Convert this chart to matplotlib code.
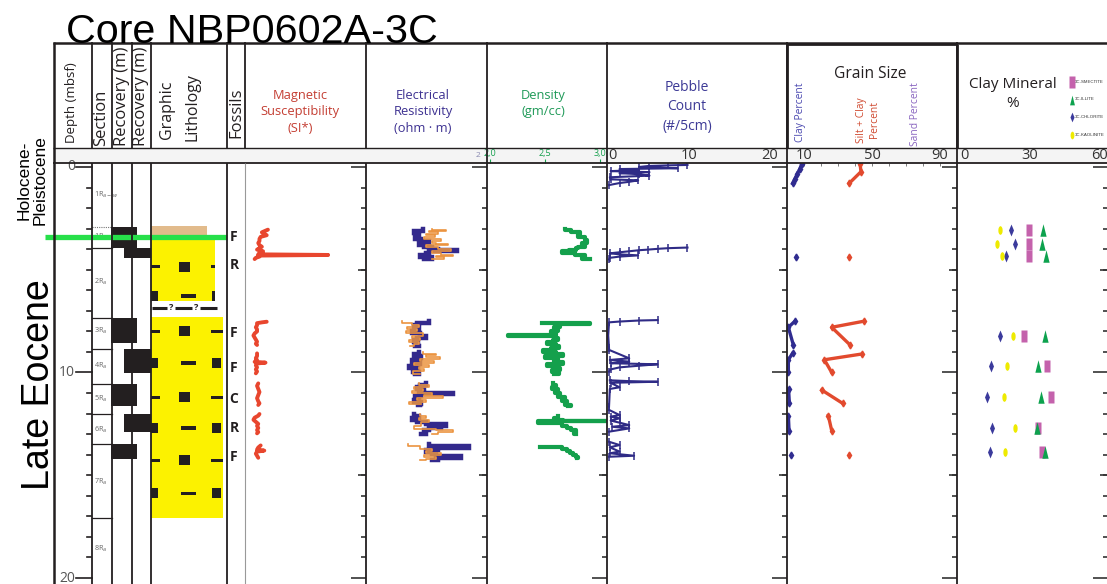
import matplotlib
matplotlib.use("Agg")
import matplotlib.pyplot as plt
from matplotlib.patches import Rectangle
from matplotlib.path import Path
from matplotlib.transforms import blended_transform_factory as btf
from matplotlib.ticker import FixedLocator
import numpy as np

# ------------------------------------------------------------------ data
title = "Core NBP0602A-3C"
depth_labels = [0, 10, 20]

section_top_dotted = 2.9
section_bounds = [3.92, 7.34, 8.86, 10.54, 12.0, 13.5, 17.1]
section_names = ["1R$_{a-w}$", "1R$_a$", "2R$_a$", "3R$_a$", "4R$_a$",
                 "5R$_a$", "6R$_a$", "7R$_a$", "8R$_a$"]
section_label_depths = [1.35, 3.4, 5.6, 8.0, 9.7, 11.3, 12.8, 15.3, 18.6]

rec_top = [2.9, 3.92, 7.34, 8.86, 10.54, 12.04, 13.47]
rec_bot = [3.92, 4.45, 8.58, 10.0, 11.63, 12.9, 14.2]
rec_col = [1, 2, 1, 2, 1, 2, 1]

tan_top, tan_bot = 2.87, 3.43
yellow_top = [3.43, 7.3]
yellow_bot = [6.5, 17.06]
contact_depth = 6.85
litho_rows = [4.86, 6.28, 8.0, 9.54, 11.2, 12.7, 14.27, 15.87]
litho_pattern = ["A", "B", "A", "B", "A", "B", "A", "B"]

fossil_depths = [3.43, 4.75, 8.06, 9.77, 11.28, 12.69, 14.13]
fossil_codes = ["F", "R", "F", "F", "C", "R", "F"]

horizon_depth = 3.43

# magnetic susceptibility (relative units, 0-100 across the panel)
mag_d = [[3.05, 3.1, 3.18, 3.25, 3.32, 3.4, 3.5, 3.6, 3.7, 3.8, 3.88, 3.95, 4.02, 4.1, 4.18, 4.25, 4.28, 4.31, 4.36, 4.42, 4.48],
         [7.53, 7.56, 7.6, 7.7, 7.8, 7.9, 8.0, 8.1, 8.2, 8.3, 8.4, 8.5, 8.6, 8.66],
         [9.07, 9.2, 9.3, 9.4, 9.48, 9.52, 9.56, 9.65, 9.75, 9.85, 9.95, 10.04],
         [10.53, 10.65, 10.8, 10.95, 11.1, 11.25, 11.4, 11.5, 11.58],
         [12.02, 12.1, 12.2, 12.3, 12.4, 12.5, 12.6, 12.7, 12.8, 12.9, 12.96],
         [13.55, 13.65, 13.75, 13.8, 13.85, 13.95, 14.05, 14.15]]
mag_v = [[19, 17, 14, 16, 18, 13, 12, 12, 11, 12, 14, 12, 10, 15, 12, 11, 69, 11, 12, 9, 8],
         [18, 14, 10, 10, 9, 10, 10, 8, 7, 8, 9, 10, 9, 10],
         [10, 10, 9, 10, 8, 17, 10, 9, 10, 9, 10, 9],
         [11, 10, 11, 12, 11, 10, 11, 12, 11],
         [12, 11, 8, 7, 9, 11, 10, 11, 10, 11, 10],
         [13, 11, 10, 16, 10, 9, 10, 11]]

# electrical resistivity (relative units, 0-100 across the panel)
resb_d = [[3.0, 3.1, 3.2, 3.3, 3.4, 3.5, 3.6, 3.7, 3.8, 3.9, 4.0, 4.05, 4.1, 4.2, 4.3, 4.4, 4.5],
          [7.5, 7.6, 7.7, 7.8, 7.9, 8.0, 8.1, 8.2, 8.3, 8.4, 8.5, 8.6, 8.7],
          [9.0, 9.1, 9.2, 9.3, 9.4, 9.5, 9.6, 9.7, 9.8, 9.9, 10.0, 10.05],
          [10.5, 10.6, 10.7, 10.8, 10.9, 10.98, 11.05, 11.15, 11.25, 11.35, 11.45, 11.55, 11.6],
          [12.0, 12.1, 12.2, 12.3, 12.4, 12.5, 12.6, 12.7, 12.8, 12.9, 13.0],
          [13.5, 13.57, 13.65, 13.75, 13.85, 13.95, 14.05, 14.15, 14.25]]
resb_v = [[47, 40, 42, 44, 41, 46, 52, 44, 48, 55, 60, 75, 52, 50, 45, 55, 48],
          [52, 42, 40, 44, 41, 38, 45, 50, 42, 40, 43, 41, 44],
          [44, 40, 46, 42, 38, 45, 41, 36, 43, 39, 44, 41],
          [50, 45, 42, 48, 44, 72, 46, 41, 44, 40, 46, 43, 45],
          [40, 44, 38, 42, 50, 66, 62, 52, 48, 50, 46],
          [52, 85, 60, 50, 55, 58, 79, 60, 55]]
reso_d = [[3.0, 3.05, 3.1, 3.15, 3.25, 3.3, 3.4, 3.5, 3.6, 3.7, 3.75, 3.8, 3.9, 4.0, 4.1, 4.2, 4.3, 4.35, 4.4, 4.5],
          [7.5, 7.6, 7.7, 7.8, 7.9, 8.0, 8.1, 8.2, 8.3, 8.4, 8.5, 8.6, 8.7],
          [9.0, 9.1, 9.15, 9.25, 9.35, 9.45, 9.55, 9.65, 9.75, 9.85, 9.95, 10.05],
          [10.5, 10.6, 10.7, 10.8, 10.9, 11.0, 11.1, 11.15, 11.25, 11.35, 11.45, 11.55],
          [12.0, 12.1, 12.2, 12.3, 12.4, 12.6, 12.75, 12.8, 12.9, 13.0],
          [13.5, 13.6, 13.7, 13.8, 13.9, 14.0, 14.1, 14.2, 14.25]]
reso_v = [[55, 66, 52, 60, 50, 57, 48, 62, 55, 58, 68, 50, 60, 70, 55, 62, 72, 58, 65, 55],
          [30, 38, 44, 34, 42, 33, 47, 38, 45, 36, 44, 40, 37],
          [47, 58, 50, 61, 45, 56, 40, 52, 44, 48, 39, 45],
          [44, 52, 40, 47, 38, 55, 48, 64, 42, 50, 36, 46],
          [45, 50, 44, 52, 46, 40, 58, 72, 60, 55],
          [35, 45, 55, 50, 62, 48, 58, 50, 45]]
res_scale = [93]
res_scale_labels = ["2"]

# density (gm/cc)
dens_d = [[3.0, 3.05, 3.15, 3.25, 3.4, 3.55, 3.7, 3.8, 3.9, 3.95, 4.05, 4.1, 4.2, 4.3, 4.4, 4.5],
          [7.58, 7.61, 7.64, 7.7, 7.8, 7.9, 8.0, 8.1, 8.18, 8.22, 8.3, 8.4, 8.5, 8.6, 8.7, 8.8, 8.9,
           9.0, 9.1, 9.2, 9.3, 9.4, 9.5, 9.6, 9.7, 9.8, 9.9, 10.0, 10.05],
          [10.5, 10.6, 10.7, 10.8, 10.9, 11.0, 11.1, 11.2, 11.3, 11.4, 11.5, 11.6, 11.65],
          [12.1, 12.2, 12.3, 12.36, 12.38, 12.45, 12.6, 12.7, 12.8, 12.9, 13.0],
          [13.62, 13.63, 13.7, 13.8, 13.9, 14.0, 14.1, 14.17]]
dens_v = [[2.68, 2.74, 2.82, 2.80, 2.86, 2.88, 2.84, 2.86, 2.80, 2.78, 2.72, 2.65, 2.77, 2.86, 2.84, 2.91],
          [2.47, 2.91, 2.60, 2.64, 2.58, 2.62, 2.55, 2.60, 2.16, 2.58, 2.62, 2.57, 2.52, 2.60, 2.63, 2.55, 2.48,
           2.60, 2.66, 2.50, 2.62, 2.58, 2.66, 2.52, 2.60, 2.64, 2.56, 2.63, 2.58],
          [2.57, 2.60, 2.56, 2.62, 2.59, 2.64, 2.62, 2.68, 2.65, 2.70, 2.68, 2.74, 2.71],
          [2.62, 2.58, 2.66, 3.05, 2.44, 2.65, 2.70, 2.74, 2.78, 2.76, 2.78],
          [2.45, 2.65, 2.70, 2.73, 2.75, 2.78, 2.80, 2.79]]
dens_ticks = [2.0, 2.5, 3.0]
dens_ticklabels = ["2,0", "2,5", "3,0"]

# pebble count (#/5cm)
peb_d = [[-0.1, -0.08, -0.05, 0.0, 0.06, 0.1, 0.15, 0.2, 0.25, 0.3, 0.35, 0.42, 0.5, 0.6, 0.65, 0.72, 0.78, 0.88],
         [3.92, 3.95, 3.98, 4.02, 4.05, 4.1, 4.15, 4.2, 4.25, 4.3, 4.36, 4.42, 4.5],
         [7.45, 7.47, 7.52, 7.56, 8.2, 8.82],
         [8.9, 9.31, 9.39, 9.47, 9.55, 9.6, 9.67, 9.75, 9.85, 9.96],
         [10.38, 10.42, 10.45, 10.5, 10.72, 10.8, 11.66],
         [11.82, 12.07, 12.15, 12.23, 12.34, 12.44, 12.56, 12.64, 12.72, 12.88],
         [13.37, 13.53, 13.64, 13.85, 13.93, 14.05, 14.1]]
peb_v = [[9.8, 7.4, 5.0, 3.8, 8.6, 1.4, 3.8, 0.3, 5.1, 1.4, 3.8, 5.1, 0.2, 0.3, 3.7, 2.6, 1.4, 0.1],
         [9.8, 7.4, 6.2, 4.9, 3.8, 2.6, 1.4, 0.2, 1.4, 3.7, 1.4, 0.2, 0.1],
         [6.1, 3.8, 1.4, 0.1, 0.0, 0.1],
         [0.1, 2.6, 0.2, 2.6, 0.3, 6.1, 3.8, 1.4, 0.3, 0.1],
         [0.2, 2.6, 6.1, 0.3, 1.4, 0.2, 0.1],
         [0.1, 1.4, 0.3, 1.4, 0.3, 1.4, 2.6, 0.5, 2.6, 0.1],
         [0.1, 1.4, 0.2, 1.4, 0.2, 3.2, 0.1]]
peb_ticks = [0, 10, 20]

# grain size (%)
clay_pct_d = [[-0.13, 0.1, 0.35, 0.6, 0.8], [4.4], [7.5, 7.8, 8.65], [9.06, 9.38, 9.98],
              [10.8, 11.5], [12.1, 12.83], [14.0]]
clay_pct_v = [[8.6, 7.5, 6.0, 4.5, 3.3], [5.1], [4.7, 0.8, 3.7], [3.3, 0.8, 0.8],
              [0.9, 1.4], [0.8, 1.2], [2.2]]
siltclay_d = [[-0.15, 0.23, 0.8], [4.4], [7.5, 7.8, 8.65], [9.1, 9.38, 10.0],
              [10.85, 11.5], [12.1, 12.83], [14.0]]
siltclay_v = [[43, 43.5, 36.5], [36.5], [45.5, 26.3, 37], [44, 22, 26.3],
              [20.4, 32.7], [24.3, 26.3], [36.7]]
grain_ticks = [10, 50, 90]

# clay mineralogy (%)
clay_depth = [3.08, 3.73, 4.33, 8.22, 9.68, 11.21, 12.7, 13.88]
smectite = [29.5, 29.6, 29.4, 27.5, 37.2, 38.9, 33.3, 35.0]
illite = [35.5, 35.2, 36.9, 36.6, 33.3, 34.8, 33.0, 36.5]
chlorite = [22.0, 23.6, 19.7, 17.0, 13.3, 11.6, 13.9, 12.9]
kaolinite = [17.0, 15.7, 18.2, 22.9, 20.3, 19.0, 23.7, 19.4]
mineral_names = ["3C-SMECTITE", "3C-ILLITE", "3C-CHLORITE", "3C-KAOLINITE"]
clay_ticks = [0, 30, 60]

# ------------------------------------------------------------------ layout
W, H = 1107, 584
fig = plt.figure(figsize=(W / 100, H / 100), dpi=100)
fig.patch.set_facecolor("white")

INK = "#231f20"
SANS = ["Open Sans", "DejaVu Sans"]
ARIAL = ["Liberation Sans", "DejaVu Sans"]
NARROW = ["Liberation Sans Narrow", "Liberation Sans", "DejaVu Sans"]
RED, NAVY, ORANGE, GREEN = "#e8462e", "#33298c", "#eb9440", "#14a04c"
C_SME, C_ILL, C_CHL, C_KAO = "#c462ac", "#0da24e", "#3b3a9c", "#eeea00"

DATA_TOP, DATA_BOT = 163, 584
D0_PX, D20_PX = 167, 578
PXM = (D20_PX - D0_PX) / 20.0
YTOP = -(D0_PX - DATA_TOP) / PXM
YBOT = 20 + (DATA_BOT - D20_PX) / PXM
LAB_OFF = 1 + 7 / (DATA_BOT - DATA_TOP)


def ax_px(x0, y0, x1, y1, z=1):
    ax = fig.add_axes([x0 / W, 1 - y1 / H, (x1 - x0) / W, (y1 - y0) / H])
    ax.set_zorder(z)
    ax.patch.set_alpha(0)
    return ax


# background band (lowest layer)
bg = ax_px(0, 0, W, H, z=0)
bg.set_xlim(0, W)
bg.set_ylim(H, 0)
bg.axis("off")
bg.add_patch(Rectangle((53, 148), W - 53, 15, fc="#f4f4f4", ec="none"))


def panel(x0, x1, xlim):
    ax = ax_px(x0, DATA_TOP, x1, DATA_BOT, z=2)
    ax.set_xlim(*xlim)
    ax.set_ylim(YBOT, YTOP)
    for s in ax.spines.values():
        s.set_visible(False)
    ax.set_xticks([])
    ax.yaxis.tick_right()
    ax.set_yticks(depth_labels)
    ax.set_yticklabels([])
    ax.yaxis.set_minor_locator(FixedLocator([d for d in range(1, 20) if d % 10]))
    ax.tick_params(axis="y", which="major", direction="in", length=10.5, width=1.2, color="#333333")
    ax.tick_params(axis="y", which="minor", direction="in", length=3.6, width=1.2, color="#333333")
    tr = btf(ax.transAxes, ax.transData)
    for d in [5, 15]:
        ax.plot([1 - 8 / (x1 - x0), 1], [d, d], transform=tr, color="#333333", lw=1.2,
                solid_capstyle="butt", clip_on=False)
    return ax


def scale_labels(ax, ticks, labels, first_left=False, fs=10.5, color="#333333"):
    tr = btf(ax.transData, ax.transAxes)
    for i, (t, lab) in enumerate(zip(ticks, labels)):
        ax.text(t, LAB_OFF, lab, transform=tr, ha="left" if (first_left and i == 0) else "center",
                va="center", fontsize=fs, color=color, family=SANS, clip_on=False)


# ---------------- left columns (x in pixels, y in depth)
axL = ax_px(53, DATA_TOP, 245, DATA_BOT, z=2)
axL.set_xlim(53, 245)
axL.set_ylim(YBOT, YTOP)
axL.axis("off")

for d in range(0, 21):
    if d in depth_labels:
        axL.plot([76, 92], [d, d], color=INK, lw=1.2, clip_on=False)
        axL.text(75, d, str(d), ha="right", va="center", fontsize=10, color="#555555", family=SANS)
    else:
        axL.plot([87, 91], [d, d], color=INK, lw=1.2)

axL.plot([92, 112], [section_top_dotted] * 2, color="#777777", lw=0.8, ls=(0, (1, 1)))
for d in section_bounds:
    axL.plot([92, 112], [d, d], color=INK, lw=0.9)
for name, d in zip(section_names, section_label_depths):
    axL.text(94.5, d, name, ha="left", va="center", fontsize=5.2, color="#666666", family=SANS)

for t, b, c in zip(rec_top, rec_bot, rec_col):
    x0, x1 = (111, 137) if c == 1 else (123.5, 150.5)
    axL.add_patch(Rectangle((x0, t), x1 - x0, b - t, fc=INK, ec="none", zorder=3))

axL.add_patch(Rectangle((151, tan_top), 56, tan_bot - tan_top, fc="#e2bb8c", ec="none"))
yboxes = []
for t, b, xr in zip(yellow_top, yellow_bot, [215, 223]):
    r = Rectangle((151, t), xr - 151, b - t, fc="#fcf200", ec="none", zorder=1)
    axL.add_patch(r)
    yboxes.append(r)

sq_h = 10 / PXM
dash_h = 3.2 / PXM
pattern_items = {"A": [("d", 151, 160), ("s", 179, 190), ("d", 211, 224)],
                 "B": [("s", 149, 158), ("d", 181, 196), ("s", 212, 221)]}
for d, p in zip(litho_rows, litho_pattern):
    box = yboxes[0] if d < yellow_bot[0] else yboxes[1]
    for kind, xa, xb in pattern_items[p]:
        h = sq_h if kind == "s" else dash_h
        rr = Rectangle((xa, d - h / 2), xb - xa, h, fc=INK, ec="none", zorder=2)
        axL.add_patch(rr)
        rr.set_clip_path(box)

for xa, xb in [(152, 167), (175, 192), (200, 217)]:
    axL.plot([xa, xb], [contact_depth] * 2, color=INK, lw=2.2, solid_capstyle="butt")
for xq in [171, 196]:
    axL.text(xq, contact_depth, "?", ha="center", va="center", fontsize=6.5, color=INK,
             family=SANS, fontweight="bold")

for d, code in zip(fossil_depths, fossil_codes):
    axL.text(234, d, code, ha="center", va="center", fontsize=10, fontweight="bold",
             color=INK, family=SANS)

axL.plot([45, 227], [horizon_depth] * 2, color="#27e04a", lw=3.8, solid_capstyle="butt",
         clip_on=False, zorder=4)

# ---------------- magnetic susceptibility
axM = panel(245, 365.5, (0, 100))
for d, v in zip(mag_d, mag_v):
    axM.plot(v, d, color=RED, lw=2.8, solid_capstyle="round", solid_joinstyle="round")

# ---------------- electrical resistivity
axR = panel(365.5, 487, (0, 100))
for d, v in zip(resb_d, resb_v):
    axR.plot(v, d, color=NAVY, lw=3.2, drawstyle="steps-pre", solid_joinstyle="miter")
for d, v in zip(reso_d, reso_v):
    axR.plot(v, d, color=ORANGE, lw=1.2, drawstyle="steps-pre")
scale_labels(axR, res_scale, res_scale_labels, fs=6, color="#8888b0")

# ---------------- density
axD = panel(487, 607, (2.0 - 3 / 110, 2.0 + 117 / 110))
for d, v in zip(dens_d, dens_v):
    axD.plot(v, d, color=GREEN, lw=3.0, drawstyle="steps-pre", solid_joinstyle="round")
axD.xaxis.tick_top()
axD.set_xticks(dens_ticks)
axD.set_xticklabels(dens_ticklabels)
axD.tick_params(axis="x", direction="out", length=3, width=0.8, color=GREEN, labelcolor=GREEN,
                labelsize=6.5, pad=0.5)
for lab in axD.get_xticklabels():
    lab.set_family(SANS)

# ---------------- pebble count
axP = panel(607, 787, (-0.15, 22.1))
for d, v in zip(peb_d, peb_v):
    axP.plot(v, d, color="#2f2b86", lw=1.5, marker="|", ms=6, mew=1.1)
scale_labels(axP, peb_ticks, [str(t) for t in peb_ticks], first_left=True)

# ---------------- grain size
axG = panel(787, 957, (0, 100))
for d, v in zip(clay_pct_d, clay_pct_v):
    axG.plot(v, d, color="#302c90", lw=2.4, marker="d", ms=3.5)
for d, v in zip(siltclay_d, siltclay_v):
    axG.plot(v, d, color="#e24a2e", lw=2.4, marker="d", ms=3.5)
axG.set_xticks(list(range(10, 100, 10)))
axG.tick_params(axis="x", which="major", top=True, bottom=False, labeltop=False,
                labelbottom=False, direction="in", length=2, width=0.6, color="#666666")
scale_labels(axG, grain_ticks, [str(t) for t in grain_ticks])

# ---------------- clay mineralogy
rect_m = Path([(-0.5, -1), (0.5, -1), (0.5, 1), (-0.5, 1), (-0.5, -1)],
              [1, 2, 2, 2, 79])
tri_m = Path([(-0.5, -1), (0.5, -1), (0, 1), (-0.5, -1)], [1, 2, 2, 79])
dia_m = Path([(0, 1), (0.42, 0), (0, -1), (-0.42, 0), (0, 1)], [1, 2, 2, 2, 79])
circ = Path.unit_circle()
ell_m = Path(circ.vertices * np.array([0.5, 1.0]), circ.codes)

axC = panel(957, 1107.5, (-3 / 2.333, (1107.5 - 960) / 2.333))
axC.plot(smectite, clay_depth, ls="none", marker=rect_m, ms=9, color=C_SME, mec="none")
axC.plot(illite, clay_depth, ls="none", marker=tri_m, ms=9, color=C_ILL, mec="none")
axC.plot(chlorite, clay_depth, ls="none", marker=dia_m, ms=8.6, color=C_CHL, mec="none")
axC.plot(kaolinite, clay_depth, ls="none", marker=ell_m, ms=6.2, color=C_KAO, mec="none")
scale_labels(axC, clay_ticks, [str(t) for t in clay_ticks], first_left=True)

# ---------------- overlay: frame, headers, titles (pixel coords)
ov = ax_px(0, 0, W, H, z=5)
ov.set_xlim(0, W)
ov.set_ylim(H, 0)
ov.axis("off")


def seg(x0, y0, x1, y1, lw=1.2, color=INK):
    ov.plot([x0, x1], [y0, y1], color=color, lw=lw, solid_capstyle="butt")


seg(53, 42.5, W, 42.5, lw=1.8)
seg(53, 148, W, 148, lw=1.0)
seg(53, 163, W, 163, lw=1.3)
seg(53.5, 42, 53.5, H, lw=1.8)
for x in [92, 112, 131.5, 151, 227, 365.5]:
    seg(x, 42, x, 148, lw=1.3)
    seg(x, 163, x, H, lw=1.3)
seg(245, 42, 245, 148, lw=1.3)
seg(245, 163, 245, H, lw=0.8, color="#999999")
for x in [487, 607, 787, 957]:
    seg(x, 42, x, H, lw=1.3)
seg(787, 44, 957, 44, lw=2.0)
seg(787, 44, 787, 148, lw=2.0)
seg(957, 44, 957, 148, lw=2.0)

ov.text(66, 43, title, ha="left", va="baseline", fontsize=29.7, family=ARIAL, color="black")
ov.text(39, 385, "Late Eocene", rotation=90, ha="center", va="center", fontsize=27,
        family=ARIAL, color="black")
ov.text(32, 180, "Holocene-\nPleistocene", rotation=90, ha="center", va="center", fontsize=12.5,
        family=ARIAL, color="black", linespacing=1.05, multialignment="center")

rot_heads = [("Depth (mbsf)", 72, 103, 9.5), ("Section", 101.5, 117.5, 12),
             ("Recovery (m)", 121.5, 96, 12), ("Recovery (m)", 141, 96, 12),
             ("Graphic", 167, 110, 11.5), ("Lithology", 193, 107, 11.5),
             ("Fossils", 236, 112.5, 12)]
for txt, x, y, fs in rot_heads:
    ov.text(x, y, txt, rotation=90, ha="center", va="center", fontsize=fs, family=SANS, color=INK)

ov.text(300, 112, "Magnetic\nSusceptibility\n(SI*)", ha="center", va="center", fontsize=9.3,
        family=SANS, color="#c43e33", linespacing=1.32)
ov.text(423, 112, "Electrical\nResistivity\n(ohm \u00b7 m)", ha="center", va="center", fontsize=9.3,
        family=SANS, color="#3d3191", linespacing=1.32)
ov.text(543, 103.5, "Density\n(gm/cc)", ha="center", va="center", fontsize=9.3,
        family=SANS, color="#1f9a58", linespacing=1.32)
ov.text(687, 107, "Pebble\nCount\n(#/5cm)", ha="center", va="center", fontsize=10,
        family=SANS, color="#3d3a96", linespacing=1.38)
ov.text(870, 74, "Grain Size", ha="center", va="center", fontsize=11.2, family=SANS, color=INK)
ov.text(801, 112.5, "Clay Percent", rotation=90, ha="center", va="center", fontsize=7.4,
        family=SANS, color="#4a48b0")
ov.text(868, 120, "Silt + Clay\nPercent", rotation=90, ha="center", va="center", fontsize=7.4,
        family=SANS, color="#d04a30", multialignment="center", linespacing=1.2)
ov.text(915, 114.5, "Sand Percent", rotation=90, ha="center", va="center", fontsize=7.4,
        family=SANS, color="#8a66c0")
ov.text(1013, 94, "Clay Mineral\n%", ha="center", va="center", fontsize=11,
        family=SANS, color=INK, linespacing=1.45)

leg_markers = [(rect_m, 8, C_SME), (tri_m, 7, C_ILL), (dia_m, 7, C_CHL), (ell_m, 5.5, C_KAO)]
for i, ((mk, ms, col), name) in enumerate(zip(leg_markers, mineral_names)):
    y = 82 + i * 17.5
    ov.plot([1071.5], [y], ls="none", marker=mk, ms=ms, color=col, mec="none")
    ov.text(1075, y, name, ha="left", va="center", fontsize=3.2, family=NARROW, color="#333333")

fig.savefig("out.png", dpi=100)
